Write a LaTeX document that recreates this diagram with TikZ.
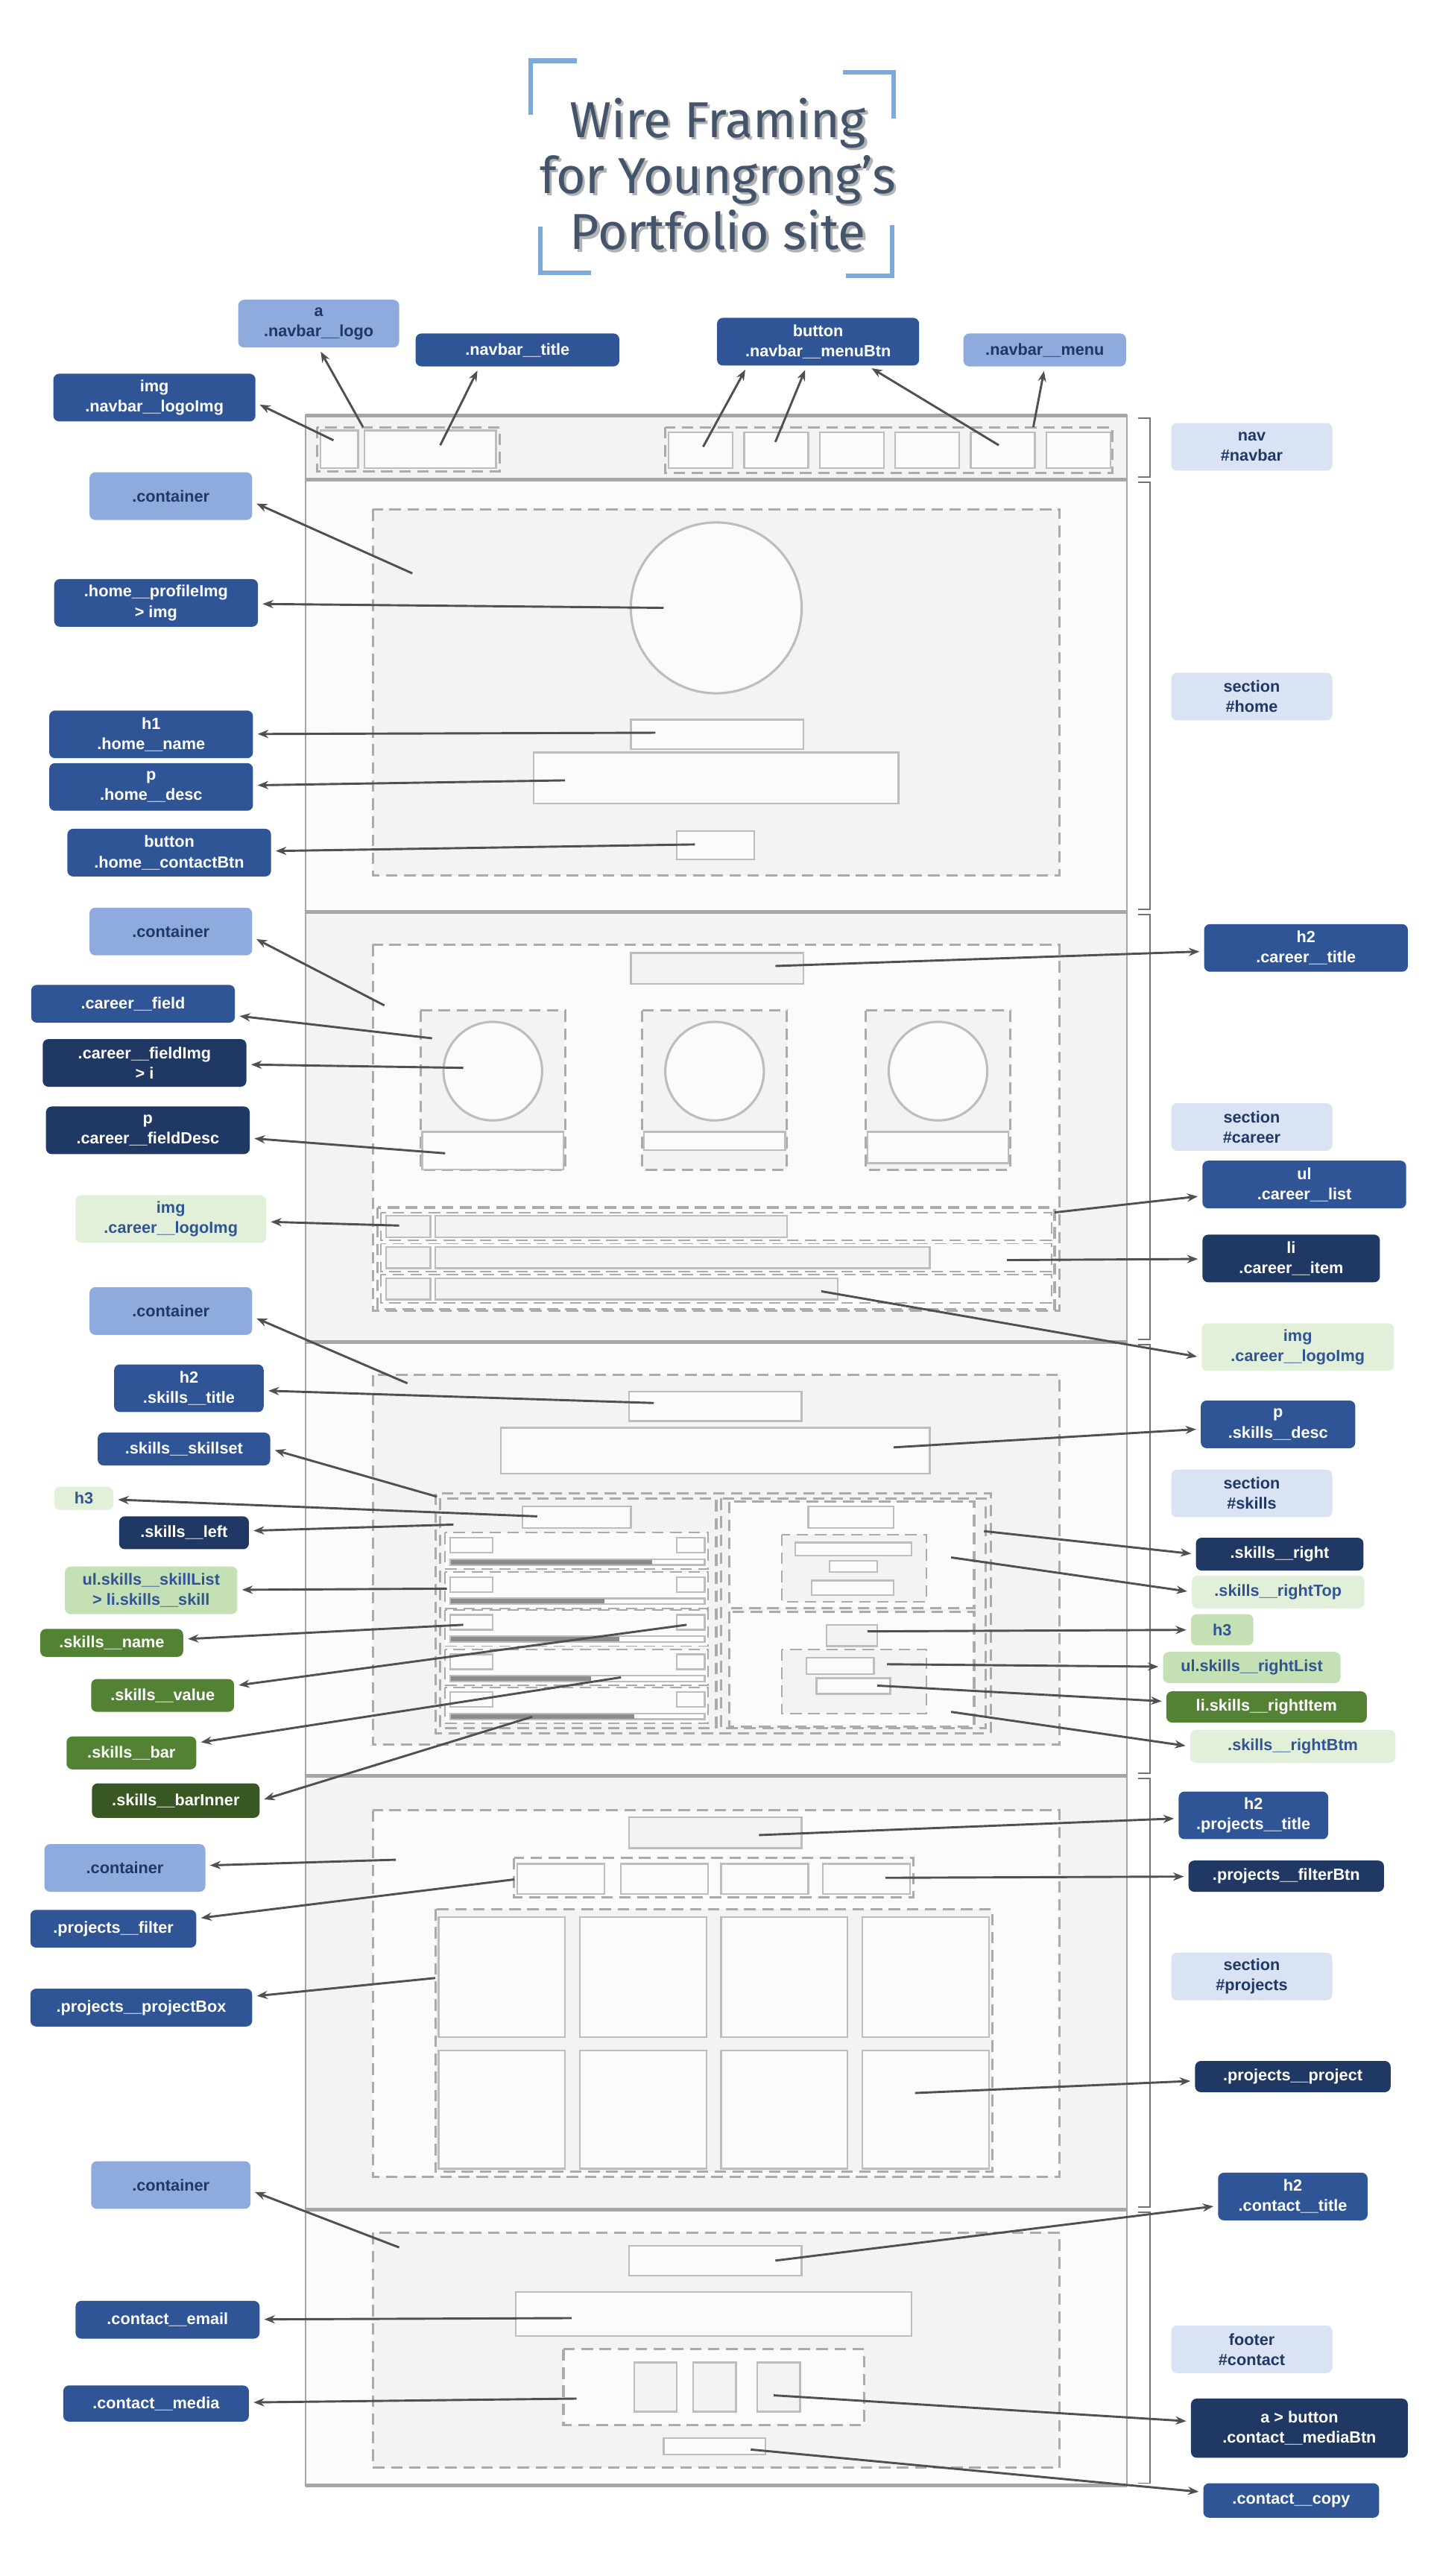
\documentclass[tikz,border=0pt]{standalone}
\usepackage{fontspec}
\setmainfont{Liberation Sans}
\newfontfamily\titlefont{Fira Sans}
\usepackage{xcolor}
\definecolor{clLight}{HTML}{8FAADC}
\definecolor{clMid}{HTML}{2F5597}
\definecolor{clDeep}{HTML}{203864}
\definecolor{clSect}{HTML}{DAE3F3}
\definecolor{clSoft}{HTML}{E2F0D9}
\definecolor{clLeaf}{HTML}{C5E0B4}
\definecolor{clGreen}{HTML}{548235}
\definecolor{clForest}{HTML}{385723}
\definecolor{clTitle}{HTML}{44546A}
\definecolor{clCorner}{HTML}{7FA9D9}
\definecolor{clWire}{HTML}{BDBDBD}
\definecolor{clDash}{HTML}{ABABAB}
\definecolor{clFrame}{HTML}{A6A6A6}
\definecolor{clShade}{HTML}{F3F3F3}
\definecolor{clPaper}{HTML}{FBFBFB}
\definecolor{clBar}{HTML}{8C8C8C}
\definecolor{clArrow}{HTML}{505050}
\usetikzlibrary{arrows.meta}
\tikzset{
  lbl/.style={rectangle, rounded corners=0.7mm, align=center, inner sep=0.4mm,
              minimum height=4mm, font=\fontsize{5.6}{7}\selectfont\bfseries},
  tall/.style={minimum height=5.8mm},
  lblLight/.style={lbl, fill=clLight, text=clDeep, minimum width=#1},
  lblMid/.style={lbl, fill=clMid, text=white, minimum width=#1},
  lblDeep/.style={lbl, fill=clDeep, text=white, minimum width=#1},
  lblSect/.style={lbl, fill=clSect, text=clDeep, minimum width=19.6mm, minimum height=5.8mm},
  lblSoft/.style={lbl, fill=clSoft, text=clMid, minimum width=#1},
  lblLeaf/.style={lbl, fill=clLeaf, text=clMid, minimum width=#1},
  lblGreen/.style={lbl, fill=clGreen, text=white, minimum width=#1},
  lblForest/.style={lbl, fill=clForest, text=white, minimum width=#1},
  titletext/.style={align=center, text=clTitle, font=\titlefont\fontsize{17.5}{19.4}\selectfont},
  corner/.style={draw=clCorner, line width=1.6pt},
  wire/.style={draw=clWire, line width=0.6pt, fill=clPaper},
  dashbox/.style={draw=clDash, line width=0.8pt, dash pattern=on 1.4mm off 0.8mm},
  frame/.style={draw=clFrame, line width=0.6pt},
  sepline/.style={draw=clFrame, line width=1.3pt},
  brace/.style={draw=black!55, line width=0.5pt},
  ptr/.style={-{Stealth[length=1.3mm, width=1mm]}, draw=clArrow, line width=0.75pt, shorten >=0.5mm},
}

\begin{document}
\begin{tikzpicture}[x=0.2mm, y=-0.2mm]
  \useasboundingbox (0,0) rectangle (871,1568);
  \fill[white] (0,0) rectangle (871,1568);

  % title
  \draw[corner] (351,37) -- (323,37) -- (323,70);
  \draw[corner] (513,44) -- (544,44) -- (544,72);
  \draw[corner] (329,138) -- (329,166) -- (360,166);
  \draw[corner] (515,168) -- (543,168) -- (543,137);
  \node[titletext, text=black!30] (titleShade) at (438.5,107.5) {Wire Framing\\for Youngrong’s\\Portfolio site};
  \node[titletext] (title) at (437,106) {Wire Framing\\for Youngrong’s\\Portfolio site};

  % page sections
  \foreach \ya/\yb/\shade in {253/292/clShade, 292/555/clPaper, 555/817/clShade,
                              817/1081/clPaper, 1081/1345/clShade, 1345/1513/clPaper} {
    \fill[\shade] (186,\ya) rectangle (686,\yb);
    \draw[brace] (693,\ya+1.5) -- (700,\ya+1.5) -- (700,\yb-1.5) -- (693,\yb-1.5);
  }
  \draw[frame] (186,253) rectangle (686,1513);
  \foreach \y in {253,292,555,817,1081,1345,1513}
    \draw[sepline] (186,\y) -- (686,\y);

  % nav
  \draw[dashbox] (193,260) rectangle (304,287);
  \draw[wire] (195,262) rectangle (218,285);
  \draw[wire] (222,262) rectangle (302,285);
  \draw[dashbox] (405,260) rectangle (677,288);
  \foreach \x in {407,453,499,545,591,637}
    \draw[wire] (\x,263) rectangle (\x+39,285);

  % home
  \draw[dashbox, fill=clShade] (227,310) rectangle (645,533);
  \draw[wire, line width=0.8pt] (436,370) circle[radius=10.4mm];
  \draw[wire] (384,438) rectangle (489,456);
  \draw[wire] (325,458) rectangle (547,489);
  \draw[wire] (412,506) rectangle (459,523);

  % career
  \draw[dashbox, fill=clPaper] (227,575) rectangle (645,798);
  \draw[wire, fill=clShade] (384,580) rectangle (489,599);
  \foreach \x/\d in {256/712, 391/700, 527/708} {
    \draw[dashbox, fill=clShade] (\x,615) rectangle (\x+88,712);
    \draw[wire, line width=0.8pt] (\x+44,652) circle[radius=6mm];
    \draw[wire] (\x+1,689) rectangle (\x+87,\d);
  }
  \draw[dashbox] (230,735) rectangle (642,797);
  \foreach \ya/\xe in {738/479, 757/566, 776/510} {
    \draw[dashbox, line width=0.5pt] (232,\ya) rectangle (640,\ya+17);
    \draw[wire, fill=clShade] (235,\ya+2) rectangle (262,\ya+15);
    \draw[wire, fill=clShade] (265,\ya+2) rectangle (\xe,\ya+15);
  }

  % skills
  \draw[dashbox, fill=clShade] (227,837) rectangle (645,1062);
  \draw[wire] (383,847) rectangle (488,865);
  \draw[wire] (305,869) rectangle (566,897);
  \draw[dashbox] (265,909) rectangle (603,1055);
  \draw[dashbox] (268,912) rectangle (436,1052);
  \draw[wire] (318,917) rectangle (384,930);
  \foreach \t/\e in {933/397, 957/368, 980/377, 1004/360, 1027/386} {
    \draw[dashbox, line width=0.5pt, fill=clPaper] (271,\t) rectangle (431,\t+22);
    \draw[wire] (274,\t+3) rectangle (300,\t+12);
    \draw[wire] (412,\t+3) rectangle (429,\t+12);
    \draw[wire, fill=white] (274,\t+16) rectangle (429,\t+19.5);
    \fill[clBar] (274.5,\t+16.4) rectangle (\e,\t+19.1);
  }
  \draw[dashbox] (439,912) rectangle (600,1052);
  \draw[dashbox, fill=clPaper] (444,914) rectangle (593,979);
  \draw[wire] (492,917) rectangle (544,930);
  \draw[dashbox, line width=0.5pt, fill=clShade] (476,934) rectangle (564,975);
  \draw[wire] (484,939) rectangle (555,947);
  \draw[wire] (505,950) rectangle (534,957);
  \draw[wire] (494,962) rectangle (544,971);
  \draw[dashbox, fill=clPaper] (444,981) rectangle (593,1051);
  \draw[wire, fill=clShade] (503,989) rectangle (534,1002);
  \draw[dashbox, line width=0.5pt, fill=clShade] (476,1004) rectangle (564,1043);
  \draw[wire] (491,1009) rectangle (532,1019);
  \draw[wire] (497,1021.5) rectangle (542,1031);

  % projects
  \draw[dashbox, fill=clPaper] (227,1102) rectangle (645,1325);
  \draw[wire, fill=clShade] (383,1106) rectangle (488,1125);
  \draw[dashbox] (313,1131) rectangle (556,1155);
  \foreach \x in {315,378,439,501}
    \draw[wire] (\x,1134.5) rectangle (\x+53,1153);
  \draw[dashbox, fill=clShade] (265,1162) rectangle (604,1322);
  \foreach \x in {267,353,439,525} {
    \draw[wire] (\x,1167) rectangle (\x+77,1240);
    \draw[wire] (\x,1248) rectangle (\x+77,1320);
  }

  % contact
  \draw[dashbox, fill=clShade] (227,1359) rectangle (645,1502);
  \draw[wire] (383,1367) rectangle (488,1385);
  \draw[wire] (314,1395) rectangle (555,1422);
  \draw[dashbox, fill=clPaper] (343,1430) rectangle (526,1476);
  \foreach \x in {386,422,461}
    \draw[wire, fill=clShade] (\x,1438) rectangle (\x+26,1468);
  \draw[wire] (404,1484) rectangle (466,1494);

  % labels
  \node[lblLight=19.6mm, tall] (navLogo) at (194,197) {a\\.navbar\_\_logo};
  \node[lblMid=24.8mm] (navTitle) at (315,213) {.navbar\_\_title};
  \node[lblMid=24.6mm, tall] (navLogoImg) at (94,242) {img\\.navbar\_\_logoImg};
  \node[lblMid=24.6mm, tall] (navMenuBtn) at (498,208) {button\\.navbar\_\_menuBtn};
  \node[lblLight=19.8mm] (navMenu) at (636,213) {.navbar\_\_menu};
  \node[lblSect] (secNav) at (762,272) {nav\\\#navbar};

  \node[lblLight=19.8mm, tall] (homeBox) at (104,302) {.container};
  \node[lblMid=24.8mm, tall] (homeImg) at (95,367) {.home\_\_profileImg\\> img};
  \node[lblMid=24.8mm, tall] (homeName) at (92,447) {h1\\.home\_\_name};
  \node[lblMid=24.8mm, tall] (homeDesc) at (92,479) {p\\.home\_\_desc};
  \node[lblMid=24.8mm, tall] (homeBtn) at (103,519) {button\\.home\_\_contactBtn};
  \node[lblSect] (secHome) at (762,424) {section\\\#home};

  \node[lblLight=19.8mm, tall] (careerBox) at (104,567) {.container};
  \node[lblMid=24.8mm, tall] (careerTitle) at (795,577) {h2\\.career\_\_title};
  \node[lblMid=24.8mm, minimum height=4.6mm] (careerField) at (81,611) {.career\_\_field};
  \node[lblDeep=24.8mm, tall] (careerImg) at (88,647) {.career\_\_fieldImg\\> i};
  \node[lblDeep=24.8mm, tall] (careerDesc) at (90,688) {p\\.career\_\_fieldDesc};
  \node[lblSect] (secCareer) at (762,686) {section\\\#career};
  \node[lblMid=24.8mm, tall] (careerList) at (794,721) {ul\\.career\_\_list};
  \node[lblSoft=23.2mm, tall] (careerLogoL) at (104,742) {img\\.career\_\_logoImg};
  \node[lblDeep=21.6mm, tall] (careerItem) at (786,766) {li\\.career\_\_item};
  \node[lblSoft=23.4mm, tall] (careerLogoR) at (790,820) {img\\.career\_\_logoImg};

  \node[lblLight=19.8mm, tall] (skillsBox) at (104,798) {.container};
  \node[lblMid=18.2mm, tall] (skillsTitle) at (115,845) {h2\\.skills\_\_title};
  \node[lblMid=18.8mm, tall] (skillsDesc) at (778,867) {p\\.skills\_\_desc};
  \node[lblMid=21mm] (skillsSet) at (112,882) {.skills\_\_skillset};
  \node[lblSect] (secSkills) at (762,909) {section\\\#skills};
  \node[lblSoft=7.2mm, minimum height=2.8mm] (skillsHL) at (51,912) {h3};
  \node[lblDeep=15.8mm] (skillsLeft) at (112,933) {.skills\_\_left};
  \node[lblLeaf=21mm, tall] (skillsList) at (92,968) {ul.skills\_\_skillList\\> li.skills\_\_skill};
  \node[lblGreen=17.4mm, minimum height=3.4mm] (skillsName) at (68,1000) {.skills\_\_name};
  \node[lblGreen=17.4mm] (skillsValue) at (99,1032) {.skills\_\_value};
  \node[lblGreen=15.8mm] (skillsBar) at (80,1067) {.skills\_\_bar};
  \node[lblForest=20.4mm, minimum height=4.2mm] (skillsInner) at (107,1096) {.skills\_\_barInner};
  \node[lblDeep=20.4mm] (skillsRight) at (779,946) {.skills\_\_right};
  \node[lblSoft=21mm] (skillsTop) at (778,969) {.skills\_\_rightTop};
  \node[lblLeaf=7.6mm, minimum height=3.8mm] (skillsHR) at (744,992) {h3};
  \node[lblLeaf=21.6mm, minimum height=3.8mm] (skillsRList) at (762,1015) {ul.skills\_\_rightList};
  \node[lblGreen=24.4mm, minimum height=3.8mm] (skillsRItem) at (771,1039) {li.skills\_\_rightItem};
  \node[lblSoft=25mm] (skillsBtm) at (787,1063) {.skills\_\_rightBtm};

  \node[lblMid=18.2mm, tall] (projTitle) at (763,1105) {h2\\.projects\_\_title};
  \node[lblLight=19.6mm, tall] (projBox) at (76,1137) {.container};
  \node[lblDeep=23.8mm, minimum height=3.8mm] (projFilterBtn) at (783,1142) {.projects\_\_filterBtn};
  \node[lblMid=20.2mm, minimum height=4.6mm] (projFilter) at (69,1174) {.projects\_\_filter};
  \node[lblSect] (secProj) at (762,1203) {section\\\#projects};
  \node[lblMid=27mm, minimum height=4.6mm] (projProjBox) at (86,1222) {.projects\_\_projectBox};
  \node[lblDeep=23.8mm, minimum height=3.8mm] (projProject) at (787,1264) {.projects\_\_project};

  \node[lblLight=19.4mm, tall] (contactBox) at (104,1330) {.container};
  \node[lblMid=18.2mm, tall] (contactTitle) at (787,1337) {h2\\.contact\_\_title};
  \node[lblMid=22.4mm, minimum height=4.6mm] (contactEmail) at (102,1412) {.contact\_\_email};
  \node[lblSect] (secContact) at (762,1430) {footer\\\#contact};
  \node[lblMid=22.6mm, minimum height=4.4mm] (contactMedia) at (95,1463) {.contact\_\_media};
  \node[lblDeep=26.4mm, minimum height=7.2mm] (contactMediaBtn) at (791,1478) {a > button\\.contact\_\_mediaBtn};
  \node[lblMid=21.4mm, minimum height=4.2mm] (contactCopy) at (786,1522) {.contact\_\_copy};

  % arrow start points on the wireframe
  \coordinate (aNavLogoImg) at (203,268);
  \coordinate (aNavLogo) at (221,260);
  \coordinate (aNavTitle) at (268,271);
  \coordinate (aMenuBtnA) at (428,272);
  \coordinate (aMenuBtnB) at (472,269);
  \coordinate (aMenuBtnC) at (608,271);
  \coordinate (aNavMenu) at (629,260);
  \coordinate (aHomeBox) at (251,349);
  \coordinate (aHomeImg) at (404,370);
  \coordinate (aHomeName) at (399,446);
  \coordinate (aHomeDesc) at (344,475);
  \coordinate (aHomeBtn) at (423,514);
  \coordinate (aCareerBox) at (234,612);
  \coordinate (aCareerTitle) at (472,588);
  \coordinate (aCareerField) at (263,632);
  \coordinate (aCareerImg) at (282,650);
  \coordinate (aCareerDesc) at (271,702);
  \coordinate (aCareerLogoL) at (243,746);
  \coordinate (aCareerList) at (642,738);
  \coordinate (aCareerItem) at (613,767);
  \coordinate (aCareerLogoR) at (500,786);
  \coordinate (aSkillsBox) at (248,842);
  \coordinate (aSkillsTitle) at (398,854);
  \coordinate (aSkillsDesc) at (544,881);
  \coordinate (aSkillsSet) at (266,911);
  \coordinate (aSkillsHL) at (327,923);
  \coordinate (aSkillsLeft) at (276,928);
  \coordinate (aSkillsList) at (272,967);
  \coordinate (aSkillsName) at (282,989);
  \coordinate (aSkillsValue) at (418,989);
  \coordinate (aSkillsBar) at (378,1021);
  \coordinate (aSkillsInner) at (324,1045);
  \coordinate (aSkillsRight) at (599,932);
  \coordinate (aSkillsTop) at (579,948);
  \coordinate (aSkillsHR) at (528,993);
  \coordinate (aSkillsRList) at (540,1013);
  \coordinate (aSkillsRItem) at (534,1026);
  \coordinate (aSkillsBtm) at (579,1042);
  \coordinate (aProjTitle) at (462,1117);
  \coordinate (aProjBox) at (241,1132);
  \coordinate (aProjFilterBtn) at (539,1143);
  \coordinate (aProjFilter) at (313,1144);
  \coordinate (aProjProjBox) at (265,1204);
  \coordinate (aProjProject) at (557,1274);
  \coordinate (aContactBox) at (243,1368);
  \coordinate (aContactTitle) at (472,1376);
  \coordinate (aContactEmail) at (348,1411);
  \coordinate (aContactMedia) at (351,1460);
  \coordinate (aContactMediaBtn) at (471,1458);
  \coordinate (aContactCopy) at (457,1491);

  % connectors
  \draw[ptr] (aNavLogoImg) -- (navLogoImg.-3);
  \draw[ptr] (aNavLogo) -- (navLogo.south);
  \draw[ptr] (aNavTitle) -- (navTitle.204);
  \draw[ptr] (aMenuBtnA) -- (navMenuBtn.199);
  \draw[ptr] (aMenuBtnB) -- (navMenuBtn.245);
  \draw[ptr] (aMenuBtnC) -- (navMenuBtn.334);
  \draw[ptr] (aNavMenu) -- (navMenu.south);
  \draw[ptr] (aHomeBox) -- (homeBox.-4);
  \draw[ptr] (aHomeImg) -- (homeImg);
  \draw[ptr] (aHomeName) -- (homeName);
  \draw[ptr] (aHomeDesc) -- (homeDesc);
  \draw[ptr] (aHomeBtn) -- (homeBtn);
  \draw[ptr] (aCareerBox) -- (careerBox.-4);
  \draw[ptr] (aCareerTitle) -- (careerTitle);
  \draw[ptr] (aCareerField) -- (careerField);
  \draw[ptr] (aCareerImg) -- (careerImg);
  \draw[ptr] (aCareerDesc) -- (careerDesc);
  \draw[ptr] (aCareerLogoL) -- (careerLogoL);
  \draw[ptr] (aCareerList) -- (careerList);
  \draw[ptr] (aCareerItem) -- (careerItem);
  \draw[ptr] (aCareerLogoR) -- (careerLogoR.186);
  \draw[ptr] (aSkillsBox) -- (skillsBox.-4);
  \draw[ptr] (aSkillsTitle) -- (skillsTitle);
  \draw[ptr] (aSkillsDesc) -- (skillsDesc);
  \draw[ptr] (aSkillsSet) -- (skillsSet.east);
  \draw[ptr] (aSkillsHL) -- (skillsHL);
  \draw[ptr] (aSkillsLeft) -- (skillsLeft);
  \draw[ptr] (aSkillsList) -- (skillsList);
  \draw[ptr] (aSkillsName) -- (skillsName);
  \draw[ptr] (aSkillsValue) -- (skillsValue);
  \draw[ptr] (aSkillsBar) -- (skillsBar);
  \draw[ptr] (aSkillsInner) -- (skillsInner.east);
  \draw[ptr] (aSkillsRight) -- (skillsRight.west);
  \draw[ptr] (aSkillsTop) -- (skillsTop.west);
  \draw[ptr] (aSkillsHR) -- (skillsHR);
  \draw[ptr] (aSkillsRList) -- (skillsRList);
  \draw[ptr] (aSkillsRItem) -- (skillsRItem);
  \draw[ptr] (aSkillsBtm) -- (skillsBtm.west);
  \draw[ptr] (aProjTitle) -- (projTitle);
  \draw[ptr] (aProjBox) -- (projBox);
  \draw[ptr] (aProjFilterBtn) -- (projFilterBtn);
  \draw[ptr] (aProjFilter) -- (projFilter);
  \draw[ptr] (aProjProjBox) -- (projProjBox);
  \draw[ptr] (aProjProject) -- (projProject);
  \draw[ptr] (aContactBox) -- (contactBox.-4);
  \draw[ptr] (aContactTitle) -- (contactTitle);
  \draw[ptr] (aContactEmail) -- (contactEmail);
  \draw[ptr] (aContactMedia) -- (contactMedia);
  \draw[ptr] (aContactMediaBtn) -- (contactMediaBtn);
  \draw[ptr] (aContactCopy) -- (contactCopy);
\end{tikzpicture}
\end{document}
